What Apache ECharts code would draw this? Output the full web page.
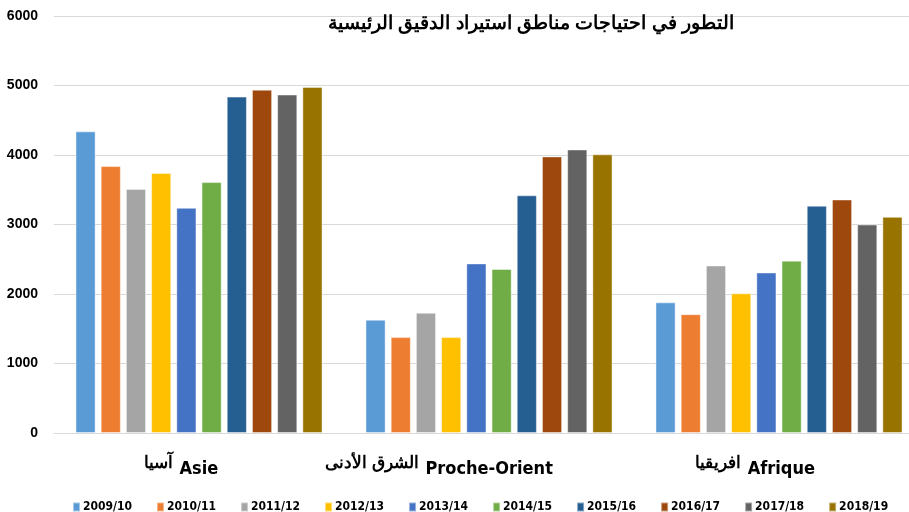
<!DOCTYPE html>
<html>
<head>
<meta charset="utf-8">
<script src="https://cdn.jsdelivr.net/npm/echarts@6/dist/echarts.min.js"></script>
<style>
  html, body { margin: 0; padding: 0; background: #fff; }
  #chart { width: 909px; height: 512px; }
</style>
</head>
<body>
<div id="chart"></div>
<script>
// régions importatrices
var regionsAr = ['آسيا', 'الشرق الأدنى', 'افريقيا'];
var regionsFr = ['Asie', 'Proche-Orient', 'Afrique'];
var seasons = ['2009/10', '2010/11', '2011/12', '2012/13', '2013/14',
  '2014/15', '2015/16', '2016/17', '2017/18', '2018/19'];
// une ligne par campagne : [Asie, Proche-Orient, Afrique]
var needs = [
  [4340, 1630, 1880],
  [3840, 1380, 1710],
  [3510, 1730, 2410],
  [3740, 1380, 2010],
  [3240, 2440, 2310],
  [3610, 2360, 2480],
  [4840, 3420, 3270],
  [4940, 3980, 3360],
  [4870, 4080, 3000],
  [4980, 4010, 3110]
];
var yTicks = [0, 1000, 2000, 3000, 4000, 5000, 6000];
var colors = ['#5B9BD5', '#ED7D31', '#A5A5A5', '#FFC000', '#4472C4',
  '#70AD47', '#255E91', '#9E480E', '#636363', '#997300'];

var cond = "'DejaVu Sans Condensed', 'Liberation Sans', sans-serif";

var chart = echarts.init(document.getElementById('chart'));
chart.setOption({
  animation: false,
  color: colors,
  title: {
    text: 'التطور في احتياجات مناطق استيراد الدقيق الرئيسية',
    left: 526,
    top: 9,
    textAlign: 'center',
    textStyle: { fontFamily: 'Liberation Sans', fontWeight: 'bold', fontSize: 19, color: '#000' }
  },
  legend: {
    top: 496,
    left: 67,
    width: 880,
    icon: 'rect',
    itemWidth: 7,
    itemHeight: 9,
    itemGap: 24,
    textStyle: { fontFamily: cond, fontWeight: 'bold', fontSize: 12, color: '#000', padding: [0, 0, 0, -2] },
    data: seasons
  },
  grid: { left: 54, width: 870, top: 16, bottom: 79, outerBoundsMode: 'none' },
  xAxis: {
    type: 'category',
    data: regionsFr,
    axisLine: { lineStyle: { color: '#d9d9d9' } },
    axisTick: { show: false },
    axisLabel: {
      margin: 22,
      interval: 0,
      formatter: function (v, i) {
        return '{ar|' + regionsAr[i] + '}  {la' + i + '|' + v + '}';
      },
      rich: {
        ar: { fontFamily: 'Liberation Sans', fontWeight: 'bold', fontSize: 17, color: '#000', padding: [0, 0, 12, 0] },
        la0: { fontFamily: cond, fontWeight: 'bold', fontSize: 18, color: '#000', padding: [0, 36, 0, 0] },
        la1: { fontFamily: cond, fontWeight: 'bold', fontSize: 18, color: '#000', padding: [0, 100, 0, 0] },
        la2: { fontFamily: cond, fontWeight: 'bold', fontSize: 18, color: '#000', padding: [0, 48, 0, 0] }
      }
    }
  },
  yAxis: {
    type: 'value',
    min: yTicks[0],
    max: yTicks[yTicks.length - 1],
    interval: 1000,
    axisLine: { show: false },
    axisTick: { show: false },
    splitLine: { lineStyle: { color: '#d9d9d9' } },
    axisLabel: {
      margin: 16,
      formatter: function (v) { return String(v); },
      fontFamily: 'Liberation Sans',
      fontWeight: 'bold',
      fontSize: 14,
      color: '#000'
    }
  },
  series: seasons.map(function (s, k) {
    return {
      name: s,
      type: 'bar',
      barGap: '25%',
      barCategoryGap: '14.8%',
      data: needs[k],
      itemStyle: { borderColor: 'rgba(255,255,255,0.45)', borderWidth: 1 }
    };
  })
});
</script>
</body>
</html>
